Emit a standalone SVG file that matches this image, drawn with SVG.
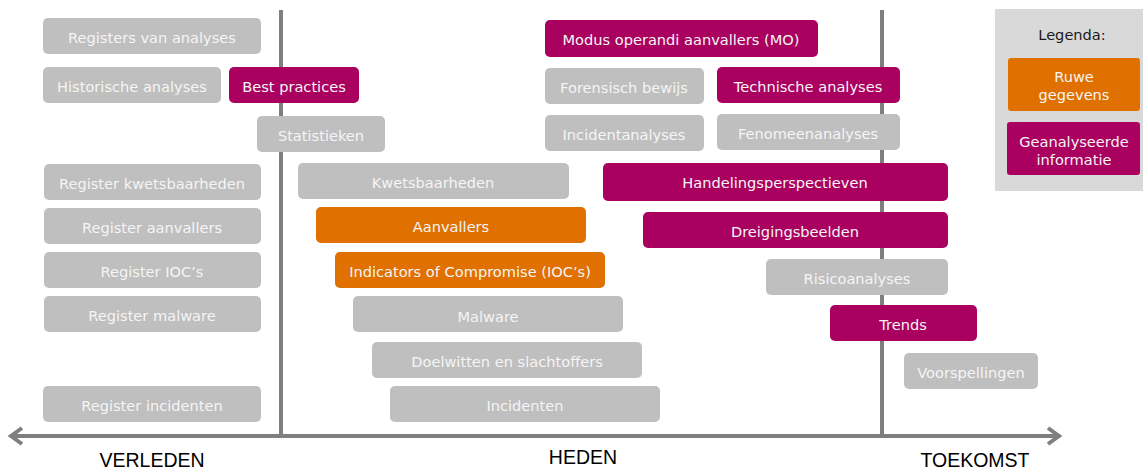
<svg xmlns="http://www.w3.org/2000/svg" width="1145" height="470" viewBox="0 0 1145 470">
<style>
.g rect{fill:#bfbfbf}
.m rect{fill:#aa0060}
.o rect{fill:#e07000}
text{font-family:"DejaVu Sans",Verdana,sans-serif;font-size:14.6px;fill:#f5f5f5;text-anchor:middle;dominant-baseline:central}
.lbl{font-family:"Liberation Sans",Arial,sans-serif;font-size:19.5px;fill:#000}
.axis{stroke:#7f7f7f;stroke-width:4;fill:none}
</style>
<rect x="0" y="0" width="1145" height="470" fill="#fff"/>
<g id="axes">
<line class="axis" x1="281" y1="10" x2="281" y2="438"/>
<line class="axis" x1="882" y1="10" x2="882" y2="438"/>
<line class="axis" x1="12" y1="436" x2="1058" y2="436"/>
<polyline class="axis" points="22,428 11,436 22,444"/>
<polyline class="axis" points="1048,428 1059,436 1048,444"/>
</g>
<g id="n1" class="g"><rect x="43" y="18" width="218" height="36" rx="5"/><text x="152" y="37">Registers van analyses</text></g>
<g id="n2" class="g"><rect x="43" y="67" width="178" height="36" rx="5"/><text x="132" y="86">Historische analyses</text></g>
<g id="n3" class="m"><rect x="229" y="67" width="130" height="36" rx="5"/><text x="294" y="86">Best practices</text></g>
<g id="n4" class="g"><rect x="257" y="116" width="128" height="36" rx="5"/><text x="321" y="135">Statistieken</text></g>
<g id="n5" class="g"><rect x="44" y="164" width="217" height="36" rx="5"/><text x="152" y="183">Register kwetsbaarheden</text></g>
<g id="n6" class="g"><rect x="44" y="208" width="217" height="36" rx="5"/><text x="152" y="227">Register aanvallers</text></g>
<g id="n7" class="g"><rect x="44" y="252" width="217" height="36" rx="5"/><text x="152" y="271">Register IOC’s</text></g>
<g id="n8" class="g"><rect x="44" y="296" width="217" height="36" rx="5"/><text x="152" y="315">Register malware</text></g>
<g id="n9" class="g"><rect x="43" y="386" width="218" height="36" rx="5"/><text x="152" y="405">Register incidenten</text></g>
<g id="n10" class="g"><rect x="298" y="163" width="271" height="36" rx="5"/><text x="433" y="182">Kwetsbaarheden</text></g>
<g id="n11" class="o"><rect x="316" y="207" width="270" height="36" rx="5"/><text x="451" y="226">Aanvallers</text></g>
<g id="n12" class="o"><rect x="335" y="252" width="270" height="36" rx="5"/><text x="470" y="271">Indicators of Compromise (IOC’s)</text></g>
<g id="n13" class="g"><rect x="353" y="296" width="270" height="36" rx="5"/><text x="488" y="316">Malware</text></g>
<g id="n14" class="g"><rect x="372" y="342" width="270" height="36" rx="5"/><text x="507" y="361">Doelwitten en slachtoffers</text></g>
<g id="n15" class="g"><rect x="390" y="386" width="270" height="36" rx="5"/><text x="525" y="405">Incidenten</text></g>
<g id="n16" class="m"><rect x="545" y="20" width="273" height="37" rx="5"/><text x="681" y="39">Modus operandi aanvallers (MO)</text></g>
<g id="n17" class="g"><rect x="545" y="68" width="159" height="36" rx="5"/><text x="624" y="87">Forensisch bewijs</text></g>
<g id="n18" class="m"><rect x="717" y="67" width="183" height="36" rx="5"/><text x="808" y="86">Technische analyses</text></g>
<g id="n19" class="g"><rect x="545" y="115" width="159" height="36" rx="5"/><text x="624" y="134">Incidentanalyses</text></g>
<g id="n20" class="g"><rect x="717" y="114" width="183" height="36" rx="5"/><text x="808" y="133">Fenomeenanalyses</text></g>
<g id="n21" class="m"><rect x="603" y="163" width="345" height="38" rx="5"/><text x="775" y="182">Handelingsperspectieven</text></g>
<g id="n22" class="m"><rect x="643" y="212" width="305" height="36" rx="5"/><text x="795" y="231">Dreigingsbeelden</text></g>
<g id="n23" class="g"><rect x="766" y="259" width="182" height="36" rx="5"/><text x="857" y="278">Risicoanalyses</text></g>
<g id="n24" class="m"><rect x="830" y="305" width="147" height="36" rx="5"/><text x="903" y="324">Trends</text></g>
<g id="n25" class="g"><rect x="904" y="353" width="134" height="36" rx="5"/><text x="971" y="372">Voorspellingen</text></g>
<g id="legend">
<rect x="995" y="9" width="148" height="182" fill="#d9d9d9"/>
<text x="1072" y="34" style="fill:#1a1a1a">Legenda:</text>
<g class="o"><rect x="1008" y="58" width="132" height="53" rx="3"/><text x="1074" y="76">Ruwe</text><text x="1074" y="94">gegevens</text></g>
<g class="m"><rect x="1007" y="122" width="133" height="53" rx="3"/><text x="1074" y="141">Geanalyseerde</text><text x="1074" y="159">informatie</text></g>
</g>
<g id="labels">
<text class="lbl" x="152" y="460">VERLEDEN</text>
<text class="lbl" x="583" y="457">HEDEN</text>
<text class="lbl" x="975" y="460">TOEKOMST</text>
</g>
</svg>
